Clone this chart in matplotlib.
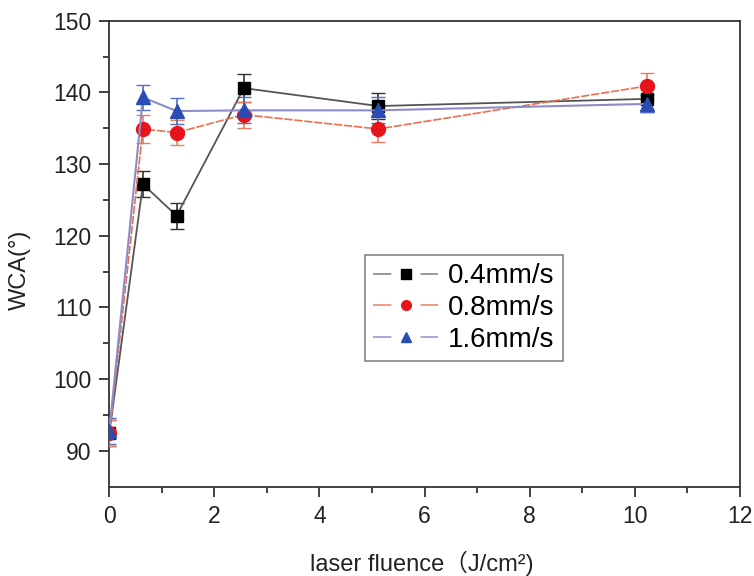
import matplotlib
matplotlib.use("Agg")
import matplotlib.pyplot as plt
from matplotlib.lines import Line2D

plt.rcParams['font.family'] = ['Liberation Sans', 'Noto Sans CJK SC', 'DejaVu Sans']

# laser fluence (J/cm2)
fluence = [0, 0.64, 1.28, 2.56, 5.12, 10.24]

# water contact angle, degrees
wca_04 = [92.5, 127.2, 122.8, 140.6, 138.1, 139.1]
err_04 = [1.8, 1.8, 1.8, 2.0, 1.8, 1.8]
wca_08 = [92.5, 134.9, 134.4, 136.9, 134.9, 140.9]
err_08 = [1.8, 1.9, 1.8, 1.8, 1.8, 1.8]
wca_16 = [92.8, 139.3, 137.4, 137.5, 137.5, 138.4]
err_16 = [1.8, 1.8, 1.8, 1.8, 1.8, 1.2]

labels = ['0.4mm/s', '0.8mm/s', '1.6mm/s']

styles = [
    dict(color='#555555', lc='#888888', lw=1.3, ls='-', marker='s', mc='black', ec='#333333'),
    dict(color='#e8704f', lc='#f08a70', lw=1.2, ls=(0, (5, 1)), marker='o', mc='#e8141c', ec='#e88060'),
    dict(color='#8c8cc8', lc='#9a9ad0', lw=1.5, ls='-', marker='^', mc='#2a4db5', ec='#5570c0'),
]

fig = plt.figure(figsize=(7.54, 5.76), dpi=100)
ax = fig.add_axes([0.145, 0.155, 0.836, 0.809])

handles = []
for y, e, st, lab in zip([wca_04, wca_08, wca_16], [err_04, err_08, err_16], styles, labels):
    ms = 9 if st['marker'] == 's' else 10
    ax.errorbar(fluence, y, yerr=e, color=st['color'], lw=st['lw'], ls=st['ls'],
                marker=st['marker'], ms=ms, mfc=st['mc'], mec=st['mc'],
                ecolor=st['ec'], elinewidth=1.2, capsize=5, zorder=3)
    # legend handle: short segment, gap with marker, short segment
    handles.append(Line2D([], [], color=st['lc'], lw=1.2, ls=(0, (11, 17.5)),
                          marker=st['marker'], ms=7, mfc=st['mc'], mec=st['mc'],
                          label=lab))

ax.set_xlim(0, 12)
ax.set_ylim(85, 150)
ax.set_xticks(range(0, 13, 2))
ax.set_xticks(range(1, 12, 2), minor=True)
ax.set_yticks(range(90, 151, 10))
ax.set_yticks(range(95, 150, 10), minor=True)

for s in ax.spines.values():
    s.set_color('#333333')
    s.set_linewidth(1.3)
ax.tick_params(which='major', direction='out', length=7, width=1.3, labelsize=16.5,
               colors='#333333', labelcolor='#222222', pad=6)
ax.tick_params(which='minor', direction='out', length=4, width=1.3, colors='#333333')

ax.set_xlabel('laser fluence（J/cm²)', fontsize=17, color='#222222')
ax.set_ylabel('WCA(°)', fontsize=17, color='#222222')
ax.xaxis.set_label_coords(0.495, -0.137)
ax.yaxis.set_label_coords(-0.124, 0.466)

leg = ax.legend(handles=handles, loc='lower left', bbox_to_anchor=(0.405, 0.27),
                fontsize=20, frameon=True, fancybox=False, edgecolor='#666666',
                handlelength=2.35, handletextpad=0.35, borderpad=0.3,
                labelspacing=0.2, borderaxespad=0)
leg.get_frame().set_linewidth(1.2)

fig.savefig('out.png', dpi=100)
